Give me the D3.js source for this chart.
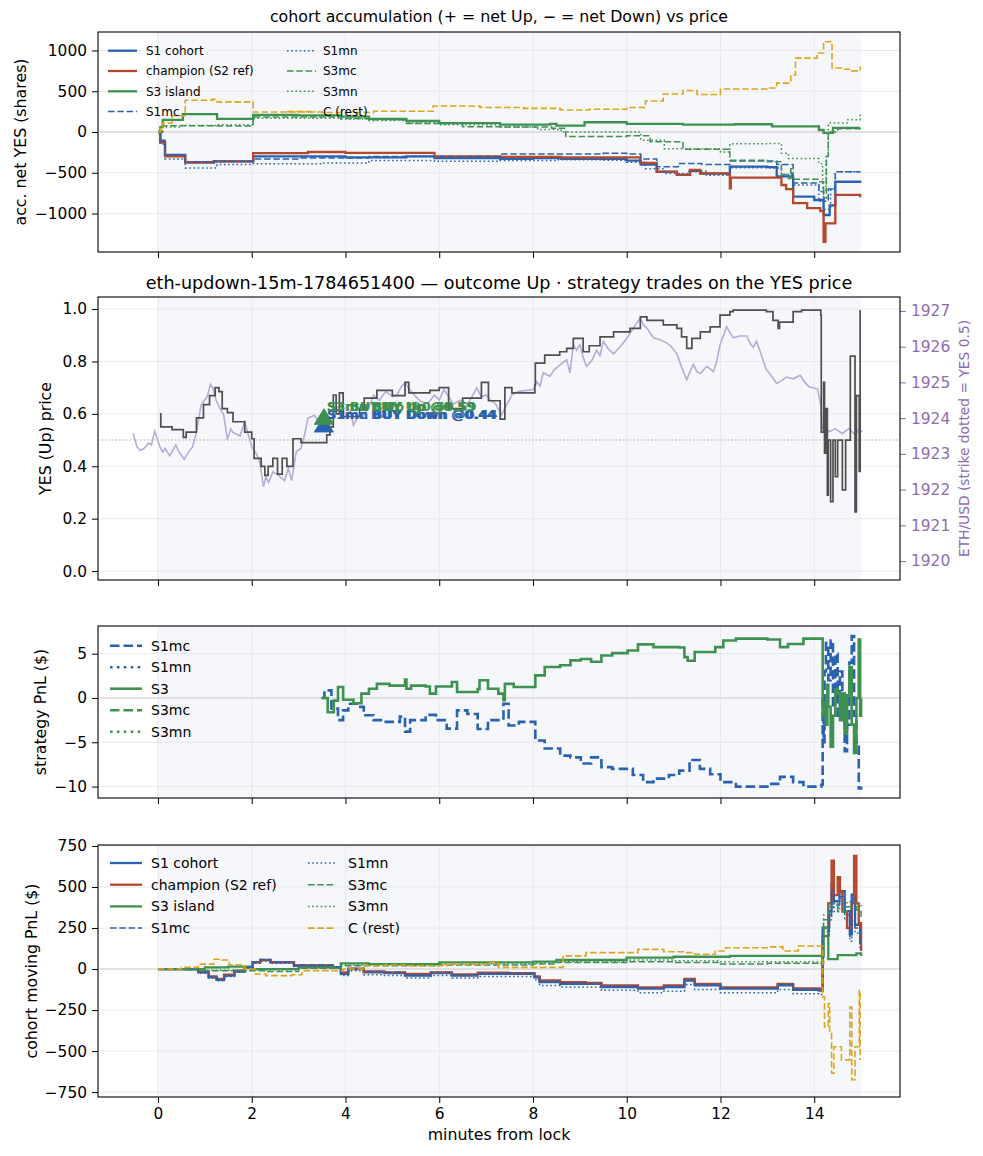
<!DOCTYPE html>
<html lang="en">
<head>
<meta charset="utf-8">
<title>eth-updown-15m cohort chart</title>
<script src="https://cdn.jsdelivr.net/npm/d3@7"></script>
<style>
  html, body { margin: 0; padding: 0; background: #fff; }
  svg { font-family: "DejaVu Sans", sans-serif; display: block; }
</style>
</head>
<body>
<script>
// ---- data: [minutes from lock, value] ----

// panel 1: accumulated net YES shares
let acc_S1cohort = [[0,0],[0.05,-120],[0.15,-280],[0.58,-370],[1.19,-360],[2.03,-300],[4.0,-310],[5.3,-300],[5.9,-320],[7.3,-330],[8.0,-320],[8.6,-330],[9.4,-330],[10.0,-350],[10.3,-400],[10.64,-490],[11.07,-527],[11.35,-480],[11.57,-510],[12.2,-425],[13.0,-430],[13.2,-545],[13.55,-793],[14.0,-834],[14.2,-1018],[14.33,-900],[14.45,-610],[14.98,-625]];
let acc_champion = [[0,0],[0.05,-130],[0.15,-300],[0.58,-375],[1.19,-360],[2.03,-260],[3.2,-245],[4.0,-255],[5.9,-300],[7.3,-306],[8.6,-310],[10.0,-310],[10.29,-380],[10.64,-487],[11.07,-527],[11.35,-466],[11.57,-507],[12.19,-527],[12.2,-690],[12.22,-560],[13.0,-560],[13.3,-650],[13.4,-700],[13.55,-872],[13.85,-933],[14.13,-970],[14.2,-1346],[14.24,-1120],[14.45,-772],[14.98,-800]];
let acc_S3island = [[0,0],[0.05,60],[0.1,150],[0.53,220],[1.26,160],[2.03,210],[3.0,205],[3.9,190],[4.5,160],[5.3,135],[6.0,110],[7.3,90],[8.37,100],[8.5,78],[9.1,120],[10.0,100],[11.2,90],[12.3,95],[13.1,70],[14.1,25],[14.2,-10],[14.4,50],[14.98,50]];
let acc_S1mc = [[0,0],[0.05,-100],[0.15,-280],[0.58,-370],[1.2,-360],[2.03,-330],[3.0,-320],[4.5,-300],[5.9,-300],[7.3,-270],[8.3,-270],[9.5,-260],[10.0,-270],[10.3,-330],[10.64,-425],[11.1,-385],[11.6,-400],[12.2,-357],[13.0,-357],[13.2,-400],[13.55,-625],[14.1,-730],[14.2,-850],[14.3,-700],[14.45,-487],[14.98,-485]];
let acc_S1mn = [[0,0],[0.05,-150],[0.15,-330],[0.58,-440],[1.26,-400],[2.03,-390],[3.5,-380],[4.5,-350],[5.9,-360],[7.3,-350],[8.5,-340],[9.5,-345],[10.0,-370],[10.4,-450],[10.8,-510],[11.3,-480],[11.7,-530],[12.2,-438],[13.0,-440],[13.3,-520],[13.55,-650],[14.1,-850],[14.2,-950],[14.35,-700],[14.45,-487],[14.98,-470]];
let acc_S3mc = [[0,0],[0.1,78],[1.26,75],[2.03,185],[3.9,165],[4.5,150],[5.3,105],[6.5,65],[7.3,60],[8.4,45],[8.7,-55],[10.0,-45],[10.5,-120],[11.2,-210],[12.2,-345],[13.0,-365],[13.3,-520],[13.45,-570],[13.5,-450],[13.52,-580],[14.1,-610],[14.2,-810],[14.26,-300],[14.3,0],[14.5,40],[14.98,60]];
let acc_S3mn = [[0,0],[0.1,60],[0.5,80],[1.26,90],[2.03,170],[3.9,160],[4.5,140],[5.3,110],[6.0,90],[7.3,60],[8.1,30],[8.6,0],[9.7,0],[10.3,-100],[10.8,-204],[12.0,-245],[12.2,-143],[13.0,-140],[13.3,-260],[13.45,-326],[14.1,-388],[14.18,-730],[14.25,-300],[14.3,110],[14.7,150],[14.98,230]];
let acc_Crest = [[0,0],[0.05,60],[0.1,110],[0.3,200],[0.58,390],[1.15,400],[1.26,370],[2.03,245],[3.5,240],[4.6,255],[5.87,320],[6.87,300],[7.8,290],[8.58,270],[9.2,280],[10.0,300],[10.4,380],[10.78,466],[11.2,510],[11.5,460],[12.0,527],[13.0,540],[13.2,600],[13.5,700],[13.6,907],[14.06,970],[14.2,1108],[14.34,1110],[14.38,785],[14.6,770],[14.8,750],[14.98,800]];

// panel 2: YES price and ETH/USD
let yesPrice = [[0.04,0.60],[0.06,0.55],[0.3,0.54],[0.54,0.51],[0.6,0.53],[0.82,0.585],[0.97,0.635],[1.1,0.67],[1.22,0.70],[1.3,0.685],[1.37,0.62],[1.48,0.605],[1.6,0.57],[1.85,0.53],[2.0,0.505],[2.05,0.43],[2.2,0.40],[2.28,0.365],[2.35,0.40],[2.45,0.43],[2.55,0.37],[2.65,0.43],[2.75,0.40],[2.88,0.505],[3.05,0.49],[3.6,0.52],[3.67,0.55],[3.74,0.672],[3.8,0.60],[3.87,0.68],[3.95,0.59],[4.3,0.62],[4.4,0.66],[4.67,0.69],[5.0,0.67],[5.27,0.72],[5.35,0.68],[5.8,0.69],[6.0,0.70],[6.2,0.62],[6.5,0.66],[6.9,0.72],[7.05,0.65],[7.3,0.58],[7.4,0.70],[7.55,0.68],[8.04,0.71],[8.05,0.794],[8.25,0.824],[8.57,0.837],[8.72,0.85],[8.86,0.888],[9.07,0.837],[9.2,0.86],[9.43,0.894],[9.72,0.913],[10.07,0.926],[10.29,0.97],[10.43,0.957],[10.78,0.94],[11.07,0.926],[11.17,0.894],[11.28,0.85],[11.39,0.888],[11.57,0.913],[11.78,0.932],[11.99,0.977],[12.2,0.99],[12.27,0.996],[12.98,0.99],[13.12,0.957],[13.23,0.926],[13.26,0.95],[13.55,0.99],[13.73,0.996],[14.14,0.977],[14.15,0.53],[14.2,0.72],[14.22,0.45],[14.25,0.62],[14.28,0.29],[14.3,0.5],[14.35,0.265],[14.4,0.5],[14.45,0.36],[14.5,0.5],[14.6,0.31],[14.67,0.5],[14.77,0.82],[14.87,0.226],[14.9,0.67],[14.96,0.38],[14.98,0.996]];
let ethUsd = [[-0.53,1923.58],[-0.45,1923.2],[-0.38,1923.1],[-0.3,1923.15],[-0.2,1923.3],[-0.14,1923.25],[-0.07,1923.64],[0.04,1923.2],[0.1,1923.05],[0.15,1923.15],[0.25,1922.95],[0.38,1923.25],[0.45,1923.05],[0.56,1922.85],[0.65,1923.05],[0.74,1923.2],[0.82,1923.6],[0.92,1924.37],[1.05,1924.6],[1.12,1924.95],[1.17,1924.85],[1.24,1924.5],[1.31,1924.3],[1.4,1924.1],[1.48,1923.4],[1.55,1923.7],[1.6,1923.6],[1.75,1923.5],[1.85,1923.9],[2.0,1923.2],[2.1,1923.0],[2.17,1922.78],[2.25,1922.08],[2.3,1922.35],[2.36,1922.2],[2.45,1922.5],[2.57,1922.4],[2.7,1922.25],[2.78,1922.6],[2.85,1922.25],[2.95,1923.06],[3.05,1923.15],[3.12,1923.5],[3.2,1924.0],[3.34,1924.08],[3.45,1923.85],[3.55,1923.95],[3.72,1924.0],[3.82,1924.3],[3.9,1924.35],[4.03,1924.0],[4.1,1924.2],[4.17,1923.8],[4.25,1924.0],[4.38,1924.05],[4.5,1924.3],[4.6,1924.65],[4.72,1924.5],[4.86,1924.75],[5.0,1924.6],[5.1,1924.65],[5.2,1924.9],[5.27,1924.98],[5.4,1924.75],[5.5,1924.6],[5.6,1924.47],[5.75,1924.4],[5.9,1924.65],[6.0,1924.5],[6.1,1924.8],[6.2,1924.6],[6.3,1924.4],[6.45,1924.5],[6.6,1924.4],[6.7,1924.6],[6.8,1924.85],[6.9,1924.6],[7.0,1924.65],[7.1,1924.5],[7.2,1924.4],[7.33,1924.09],[7.44,1924.37],[7.55,1924.65],[7.7,1924.75],[8.01,1924.8],[8.08,1925.02],[8.15,1924.9],[8.22,1925.27],[8.36,1925.17],[8.45,1925.35],[8.54,1925.45],[8.63,1925.55],[8.72,1925.63],[8.79,1925.27],[8.86,1926.05],[8.93,1925.9],[9.0,1926.05],[9.07,1925.7],[9.14,1925.45],[9.25,1925.6],[9.36,1925.9],[9.43,1925.75],[9.5,1926.15],[9.6,1925.95],[9.72,1925.8],[9.86,1926.0],[10.0,1926.23],[10.14,1926.52],[10.29,1926.8],[10.36,1926.6],[10.43,1926.52],[10.57,1926.25],[10.7,1926.2],[10.86,1926.1],[10.95,1926.0],[11.07,1925.8],[11.18,1925.4],[11.28,1925.07],[11.35,1925.3],[11.42,1925.5],[11.5,1925.3],[11.57,1925.25],[11.71,1925.45],[11.85,1925.3],[11.92,1925.6],[11.99,1926.05],[12.13,1926.56],[12.2,1926.4],[12.27,1926.25],[12.4,1926.3],[12.56,1926.3],[12.63,1926.1],[12.7,1925.98],[12.77,1926.15],[12.85,1925.85],[12.98,1925.35],[13.05,1925.25],[13.2,1924.97],[13.3,1925.05],[13.41,1925.15],[13.55,1925.1],[13.7,1925.2],[13.8,1925.0],[13.9,1924.87],[14.07,1924.82],[14.14,1924.37],[14.17,1923.71],[14.24,1923.8],[14.31,1923.62],[14.45,1923.7],[14.6,1923.57],[14.74,1923.71],[14.82,1923.6],[14.88,1923.52],[14.95,1923.68],[15.03,1923.62]];
let strikeYes = 0.5;
let trades = [
  {who:"S1mc", side:"BUY Down", t:3.54, yes:0.56, px:0.44, color:"#2a62b0"},
  {who:"S1mn", side:"BUY Down", t:3.54, yes:0.56, px:0.44, color:"#2a62b0"},
  {who:"S3", side:"BUY Up", t:3.54, yes:0.59, px:0.59, color:"#3f9150"},
  {who:"S3mc", side:"BUY Up", t:3.54, yes:0.59, px:0.59, color:"#3f9150"},
  {who:"S3mn", side:"BUY Up", t:3.54, yes:0.59, px:0.59, color:"#3f9150"}
];

// panel 3: strategy PnL ($)
let pnl_S1mc = [[3.49,0],[3.55,0.86],[3.7,-1.2],[3.84,-2.5],[3.95,-1.4],[4.06,-0.64],[4.28,-1.0],[4.39,-1.95],[4.6,-2.5],[4.83,-2.7],[5.16,-2.1],[5.27,-3.8],[5.38,-2.5],[5.71,-1.9],[5.93,-2.5],[6.16,-3.46],[6.38,-1.4],[6.6,-1.8],[6.82,-3.5],[7.04,-2.5],[7.37,-0.64],[7.48,-3.1],[7.7,-2.7],[8.05,-4.8],[8.25,-5.7],[8.58,-6.5],[8.8,-6.7],[9.02,-7.4],[9.24,-6.7],[9.46,-7.8],[9.69,-8.0],[10.13,-8.7],[10.35,-9.5],[10.57,-9.1],[10.9,-8.7],[11.12,-8.2],[11.34,-7.0],[11.56,-8.0],[11.78,-8.6],[12.0,-9.5],[12.33,-10.0],[13.0,-9.7],[13.27,-8.9],[13.55,-9.5],[13.77,-10.0],[14.15,-9.8],[14.18,0],[14.2,-5],[14.22,3],[14.25,6.2],[14.3,2],[14.35,6.5],[14.4,-1],[14.45,5],[14.5,-2],[14.55,3],[14.6,0.5],[14.65,-6],[14.7,-3],[14.75,4],[14.8,7],[14.85,-2],[14.9,-5],[14.95,-10.2],[15.0,-10]];
let pnl_S1mn = [];
let pnl_S3 = [[3.49,0],[3.62,-1.6],[3.75,-0.3],[3.84,1.24],[3.95,-0.2],[4.17,-0.6],[4.34,0.5],[4.5,1.05],[4.67,1.6],[4.94,1.4],[5.27,2.07],[5.3,1.05],[5.4,1.4],[5.71,1.3],[5.8,0.5],[5.93,1.3],[6.27,1.8],[6.38,0.68],[6.82,1.0],[6.86,2.0],[7.04,1.05],[7.26,0.5],[7.37,-0.26],[7.4,1.6],[7.59,1.24],[8.05,2.56],[8.25,3.5],[8.58,3.7],[8.8,4.25],[9.02,4.4],[9.24,4.1],[9.46,4.8],[9.69,5.07],[10.02,5.37],[10.24,6.05],[10.57,5.75],[11.12,5.7],[11.23,4.62],[11.3,4.2],[11.45,5.19],[11.89,5.75],[12.06,6.5],[12.33,6.7],[13.0,6.6],[13.27,5.75],[13.44,6.1],[13.77,6.7],[14.15,6.7],[14.18,-2],[14.22,-0.5],[14.25,-3],[14.28,1.5],[14.3,-1],[14.35,-5.5],[14.4,-2],[14.45,1],[14.5,0.5],[14.55,-2.5],[14.6,0.5],[14.65,-4],[14.7,0.3],[14.75,3.5],[14.8,-3],[14.85,-6.2],[14.9,0],[14.95,6.6],[14.98,-2],[15.0,0]];
let pnl_S3mc = [];
let pnl_S3mn = [];

// panel 4: cohort moving PnL ($)
let mov_S1cohort = [[0,0],[0.58,0],[0.86,-20],[1.08,-50],[1.25,-66],[1.41,-40],[1.63,-15],[1.85,10],[2.02,40],[2.18,54],[2.4,40],[2.74,40],[2.9,20],[3.73,10],[3.9,-30],[4.06,0],[4.39,-20],[4.83,-25],[5.27,-40],[5.82,-25],[6.27,-40],[6.82,-30],[7.48,-30],[8.03,-50],[8.14,-80],[8.58,-90],[9.13,-90],[9.46,-110],[10.24,-120],[10.79,-110],[11.23,-70],[11.45,-100],[12.0,-120],[13.0,-120],[13.22,-100],[13.55,-127],[14.1,-131],[14.18,252],[14.32,353],[14.37,514],[14.42,413],[14.54,474],[14.65,353],[14.76,212],[14.8,454],[14.87,270],[14.98,151]];
let mov_champion = [[0,0],[0.58,0],[0.86,-15],[1.08,-45],[1.25,-60],[1.41,-35],[1.63,-10],[1.85,12],[2.02,42],[2.18,56],[2.4,42],[2.74,42],[2.9,22],[3.73,12],[3.9,-20],[4.06,2],[4.39,-15],[4.83,-20],[5.27,-30],[5.82,-20],[6.27,-32],[6.82,-22],[7.48,-25],[8.03,-45],[8.14,-70],[8.58,-80],[9.13,-85],[9.46,-100],[10.24,-112],[10.79,-100],[11.23,-60],[11.45,-90],[12.0,-112],[13.0,-112],[13.22,-90],[13.55,-118],[14.1,-120],[14.18,200],[14.3,400],[14.37,660],[14.42,450],[14.5,560],[14.55,470],[14.6,350],[14.7,250],[14.8,400],[14.85,690],[14.9,400],[14.95,280],[15.0,110]];
let mov_S3island = [[0,0],[0.6,0],[1.0,10],[1.5,15],[2.0,0],[3.0,10],[3.9,35],[4.5,30],[6.0,40],[7.5,40],[8.0,45],[8.5,55],[10.0,70],[11.0,75],[12.2,80],[14.15,80],[14.2,250],[14.3,60],[14.5,85],[14.9,95],[15.0,80]];
let mov_S1mc = [[0,0],[0.58,0],[0.86,-18],[1.08,-48],[1.25,-62],[1.41,-38],[1.63,-12],[1.85,12],[2.02,45],[2.18,58],[2.4,44],[2.74,44],[2.9,24],[3.73,12],[3.9,-25],[4.06,4],[4.39,-15],[4.83,-20],[5.27,-35],[5.82,-20],[6.27,-35],[6.82,-25],[7.48,-25],[8.03,-45],[8.14,-75],[8.58,-85],[9.13,-85],[9.46,-105],[10.24,-115],[10.79,-105],[11.23,-65],[11.45,-95],[12.0,-115],[13.0,-115],[13.22,-95],[13.55,-122],[14.1,-125],[14.18,230],[14.32,330],[14.37,480],[14.42,390],[14.54,440],[14.65,330],[14.76,200],[14.8,430],[14.87,250],[14.98,160]];
let mov_S1mn = [[0,0],[0.58,0],[0.86,-25],[1.08,-55],[1.25,-72],[1.41,-45],[1.63,-20],[1.85,5],[2.02,35],[2.18,48],[2.4,35],[2.74,35],[2.9,15],[3.73,5],[3.9,-40],[4.06,-10],[4.39,-35],[4.83,-40],[5.27,-55],[5.82,-40],[6.27,-55],[6.82,-45],[7.48,-45],[8.03,-65],[8.14,-100],[8.58,-110],[9.13,-110],[9.46,-130],[10.24,-145],[10.79,-135],[11.23,-95],[11.45,-125],[12.0,-145],[13.0,-145],[13.22,-125],[13.55,-150],[14.1,-155],[14.18,200],[14.32,300],[14.37,430],[14.42,350],[14.54,400],[14.65,300],[14.76,170],[14.8,380],[14.87,220],[14.98,120]];
let mov_S3mc = [[0,0],[0.6,-5],[1.0,-10],[2.0,-10],[2.3,-15],[3.0,5],[3.9,20],[4.5,20],[6.0,25],[8.0,30],[8.5,40],[10.0,45],[11.0,40],[12.0,30],[13.0,35],[14.15,30],[14.2,300],[14.3,380],[14.5,350],[14.7,380],[14.9,360],[15.0,300]];
let mov_S3mn = [[0,0],[0.6,-5],[1.0,-8],[2.0,-5],[3.0,10],[3.9,25],[4.5,25],[6.0,30],[8.0,35],[8.5,45],[10.0,55],[11.0,50],[12.0,45],[13.0,45],[14.15,40],[14.2,330],[14.3,400],[14.5,380],[14.7,410],[14.9,380],[15.0,390]];
let mov_Crest = [[0,0],[0.5,10],[0.86,30],[1.19,60],[1.36,55],[1.52,26],[1.85,0],[2.07,-30],[2.3,-40],[2.85,-35],[3.07,-10],[3.95,0],[4.39,20],[4.83,25],[5.27,20],[6.16,30],[7.04,40],[7.26,10],[8.58,10],[8.64,80],[9.13,100],[9.69,100],[10.24,120],[10.79,105],[11.23,100],[11.45,90],[11.89,110],[12.11,130],[13.0,135],[13.33,110],[13.66,140],[14.15,140],[14.18,-170],[14.22,-353],[14.3,-210],[14.33,-393],[14.37,-635],[14.42,-474],[14.5,-474],[14.58,-554],[14.76,-232],[14.8,-675],[14.87,-474],[14.96,-131],[14.98,-554]];

// tick labels
let xTickVals = [0, 2, 4, 6, 8, 10, 12, 14];
let p1Ticks = [-1000, -500, 0, 500, 1000];
let p2Ticks = [0, 0.2, 0.4, 0.6, 0.8, 1.0];
let ethTicks = [1920, 1921, 1922, 1923, 1924, 1925, 1926, 1927];
let p3Ticks = [-10, -5, 0, 5];
let p4Ticks = [-750, -500, -250, 0, 250, 500, 750];

// ---- drawing ----
let w = 983, h = 1156;
let left = 98, right = 900;
let BLUE = "#2a62b0", RED = "#b5472a", GREEN = "#3f9150", GOLD = "#dfa41a";
let PURPLE = "#8e6bb0", ETHLINE = "#b9aad6";
let TICKFONT = 15.4, LABELFONT = 15.8;

let svg = d3.select("body").append("svg")
    .attr("width", w)
    .attr("height", h);

let xScale = d3.scaleLinear().domain([-1.28, 15.83]).range([left, right]);

let DASH = "6.5,2.8", DOT = "1.6,2.6";

function makePanel(top, bottom, domain, ticks, fmt, id) {
    let y = d3.scaleLinear().domain(domain).range([bottom, top]);
    let g = svg.append("g");

    // shaded window 0..15 min
    g.append("rect")
        .attr("x", xScale(0)).attr("y", top)
        .attr("width", xScale(15) - xScale(0)).attr("height", bottom - top)
        .attr("fill", "#f5f7fb");

    // grid
    g.selectAll("line.vg").data(xTickVals).enter().append("line")
        .attr("x1", d => xScale(d)).attr("x2", d => xScale(d))
        .attr("y1", top).attr("y2", bottom)
        .attr("stroke", "#e4e5ea").attr("stroke-width", 0.8);
    g.selectAll("line.hg").data(ticks).enter().append("line")
        .attr("x1", left).attr("x2", right)
        .attr("y1", d => y(d)).attr("y2", d => y(d))
        .attr("stroke", "#e4e5ea").attr("stroke-width", 0.8);

    svg.append("clipPath").attr("id", id)
        .append("rect").attr("x", left).attr("y", top)
        .attr("width", right - left).attr("height", bottom - top);

    let yAxis = d3.axisLeft(y).tickValues(ticks).tickSize(6).tickPadding(5).tickFormat(fmt);
    let ga = svg.append("g").attr("transform", "translate(" + left + ",0)").call(yAxis);
    styleAxis(ga, "#000");

    let xAxis = d3.axisBottom(xScale).tickValues(xTickVals).tickSize(6).tickPadding(5);
    let gx = svg.append("g").attr("transform", "translate(0," + bottom + ")").call(xAxis);
    styleAxis(gx, "#000");

    return {y: y, top: top, bottom: bottom, clip: "url(#" + id + ")", xAxisG: gx};
}

function styleAxis(g, color) {
    g.attr("font-family", "DejaVu Sans").attr("font-size", TICKFONT);
    g.select(".domain").remove();
    g.selectAll(".tick line").attr("stroke", color).attr("stroke-width", 1);
    g.selectAll(".tick text").attr("fill", color);
}

function frame(p) {
    svg.append("rect")
        .attr("x", left).attr("y", p.top)
        .attr("width", right - left).attr("height", p.bottom - p.top)
        .attr("fill", "none").attr("stroke", "#000").attr("stroke-width", 1.1);
}

function zeroLine(p) {
    svg.append("line")
        .attr("x1", left).attr("x2", right)
        .attr("y1", p.y(0)).attr("y2", p.y(0))
        .attr("stroke", "#cfcfcf").attr("stroke-width", 1.1);
}

function drawSeries(p, list, curve) {
    let line = d3.line()
        .x(d => xScale(d[0]))
        .y(d => p.y(d[1]))
        .curve(curve);
    let g = svg.append("g").attr("clip-path", p.clip);
    list.forEach(s => {
        if (s.data.length === 0) return;
        g.append("path")
            .datum(s.data)
            .attr("d", line)
            .attr("fill", "none")
            .attr("stroke", s.color)
            .attr("stroke-width", s.w)
            .attr("stroke-dasharray", s.dash)
            .attr("stroke-linejoin", "miter");
    });
}

function legend(list, cols, fontSize, rowGap, rowY0, colX) {
    let g = svg.append("g").attr("font-family", "DejaVu Sans").attr("font-size", fontSize);
    let perCol = Math.ceil(list.length / cols);
    list.forEach((s, i) => {
        let cx = colX[Math.floor(i / perCol)];
        let yy = rowY0 + (i % perCol) * rowGap;
        g.append("line")
            .attr("x1", cx[0]).attr("x2", cx[1])
            .attr("y1", yy).attr("y2", yy)
            .attr("stroke", s.color)
            .attr("stroke-width", s.w)
            .attr("stroke-dasharray", s.dash);
        g.append("text")
            .attr("x", cx[2]).attr("y", yy)
            .attr("dy", "0.35em")
            .text(s.name);
    });
}

function yLabel(text, xPos, p) {
    svg.append("text")
        .attr("transform", "translate(" + xPos + "," + ((p.top + p.bottom) / 2) + ") rotate(-90)")
        .attr("text-anchor", "middle")
        .attr("dy", "0.35em")
        .attr("font-size", LABELFONT)
        .text(text);
}

function hideXLabels(p) {
    p.xAxisG.selectAll(".tick text").remove();
}

// ===== panel 1 =====
let p1 = makePanel(32, 252, [-1472, 1227], p1Ticks, d3.format("d"), "c1");
hideXLabels(p1);
zeroLine(p1);
let p1Series = [
    {name: "S1 cohort", data: acc_S1cohort, color: BLUE, w: 2.3, dash: null},
    {name: "champion (S2 ref)", data: acc_champion, color: RED, w: 2.3, dash: null},
    {name: "S3 island", data: acc_S3island, color: GREEN, w: 2.3, dash: null},
    {name: "S1mc", data: acc_S1mc, color: BLUE, w: 1.5, dash: DASH},
    {name: "S1mn", data: acc_S1mn, color: BLUE, w: 1.5, dash: DOT},
    {name: "S3mc", data: acc_S3mc, color: GREEN, w: 1.5, dash: DASH},
    {name: "S3mn", data: acc_S3mn, color: GREEN, w: 1.5, dash: DOT},
    {name: "C (rest)", data: acc_Crest, color: GOLD, w: 1.6, dash: DASH}
];
drawSeries(p1, p1Series, d3.curveStepAfter);
frame(p1);
legend(p1Series, 2, 12, 20.3, 50.7, [[108, 137, 146], [287, 316, 323]]);
yLabel("acc. net YES (shares)", 20, p1);
svg.append("text").attr("x", 499).attr("y", 22).attr("text-anchor", "middle")
    .attr("font-size", 15.8).text("cohort accumulation (+ = net Up, \u2212 = net Down) vs price");

// ===== panel 2 =====
let p2 = makePanel(297, 580, [-0.034, 1.046], p2Ticks, d3.format(".1f"), "c2");
hideXLabels(p2);
let yEth = d3.scaleLinear().domain([1919.47, 1927.39]).range([580, 297]);

// strike dotted
svg.append("line")
    .attr("x1", left).attr("x2", right)
    .attr("y1", p2.y(strikeYes)).attr("y2", p2.y(strikeYes))
    .attr("stroke", "#a9a9a9").attr("stroke-width", 1.1)
    .attr("stroke-dasharray", "1.5,2");

let ethLine = d3.line().x(d => xScale(d[0])).y(d => yEth(d[1]));
svg.append("path")
    .datum(ethUsd)
    .attr("clip-path", p2.clip)
    .attr("d", ethLine)
    .attr("fill", "none")
    .attr("stroke", ETHLINE)
    .attr("stroke-width", 1.6);

drawSeries(p2, [{data: yesPrice, color: "#4f4f4f", w: 1.7, dash: null}], d3.curveStepAfter);

// trade markers (triangles) then their labels
let tradeG = svg.append("g");
trades.forEach(d => {
    let cx = xScale(d.t), cy = p2.y(d.yes);
    tradeG.append("path")
        .attr("d", "M" + cx + "," + (cy - 8) + "L" + (cx + 10) + "," + (cy + 8) + "L" + (cx - 10) + "," + (cy + 8) + "Z")
        .attr("fill", d.color);
});
trades.forEach(d => {
    tradeG.append("text")
        .attr("x", xScale(d.t) + 3)
        .attr("y", p2.y(d.yes) - 5.5)
        .attr("font-size", 13)
        .attr("font-weight", "bold")
        .attr("fill", d.color)
        .text(d.who + " " + d.side + " @" + d.px.toFixed(2));
});

let ethAxis = d3.axisRight(yEth).tickValues(ethTicks).tickSize(6).tickPadding(5).tickFormat(d3.format("d"));
let ge = svg.append("g").attr("transform", "translate(" + right + ",0)").call(ethAxis);
styleAxis(ge, PURPLE);
frame(p2);
yLabel("YES (Up) price", 45, p2);
svg.append("text")
    .attr("transform", "translate(964," + ((297 + 580) / 2) + ") rotate(-90)")
    .attr("text-anchor", "middle").attr("dy", "0.35em")
    .attr("font-size", 13.8).attr("fill", PURPLE)
    .text("ETH/USD (strike dotted = YES 0.5)");
svg.append("text").attr("x", 499).attr("y", 289).attr("text-anchor", "middle")
    .attr("font-size", 17.6)
    .text("eth-updown-15m-1784651400 \u2014 outcome Up \u00b7 strategy trades on the YES price");

// ===== panel 3 =====
let p3 = makePanel(626, 798, [-11.29, 8.13], p3Ticks, d3.format("d"), "c3");
hideXLabels(p3);
zeroLine(p3);
let p3Series = [
    {name: "S1mc", data: pnl_S1mc, color: BLUE, w: 2.6, dash: "9.5,4"},
    {name: "S1mn", data: pnl_S1mn, color: BLUE, w: 2.6, dash: "2.6,4.3"},
    {name: "S3", data: pnl_S3, color: GREEN, w: 2.6, dash: null},
    {name: "S3mc", data: pnl_S3mc, color: GREEN, w: 2.6, dash: "9.5,4"},
    {name: "S3mn", data: pnl_S3mn, color: GREEN, w: 2.6, dash: "2.6,4.3"}
];
drawSeries(p3, p3Series, d3.curveStepAfter);
frame(p3);
legend(p3Series, 1, 14, 21.5, 645.7, [[110, 142, 151]]);
yLabel("strategy PnL ($)", 40, p3);

// ===== panel 4 =====
let p4 = makePanel(845, 1097, [-780, 756], p4Ticks, d3.format("d"), "c4");
zeroLine(p4);
let p4Series = [
    {name: "S1 cohort", data: mov_S1cohort, color: BLUE, w: 2.3, dash: null},
    {name: "champion (S2 ref)", data: mov_champion, color: RED, w: 2.3, dash: null},
    {name: "S3 island", data: mov_S3island, color: GREEN, w: 2.3, dash: null},
    {name: "S1mc", data: mov_S1mc, color: BLUE, w: 1.5, dash: DASH},
    {name: "S1mn", data: mov_S1mn, color: BLUE, w: 1.5, dash: DOT},
    {name: "S3mc", data: mov_S3mc, color: GREEN, w: 1.5, dash: DASH},
    {name: "S3mn", data: mov_S3mn, color: GREEN, w: 1.5, dash: DOT},
    {name: "C (rest)", data: mov_Crest, color: GOLD, w: 1.6, dash: DASH}
];
drawSeries(p4, p4Series, d3.curveStepAfter);
frame(p4);
legend(p4Series, 2, 14, 21.7, 863, [[110, 142, 151], [308, 336, 348]]);
yLabel("cohort moving PnL ($)", 31, p4);
svg.append("text").attr("x", 499).attr("y", 1140).attr("text-anchor", "middle")
    .attr("font-size", LABELFONT).text("minutes from lock");
</script>
</body>
</html>
